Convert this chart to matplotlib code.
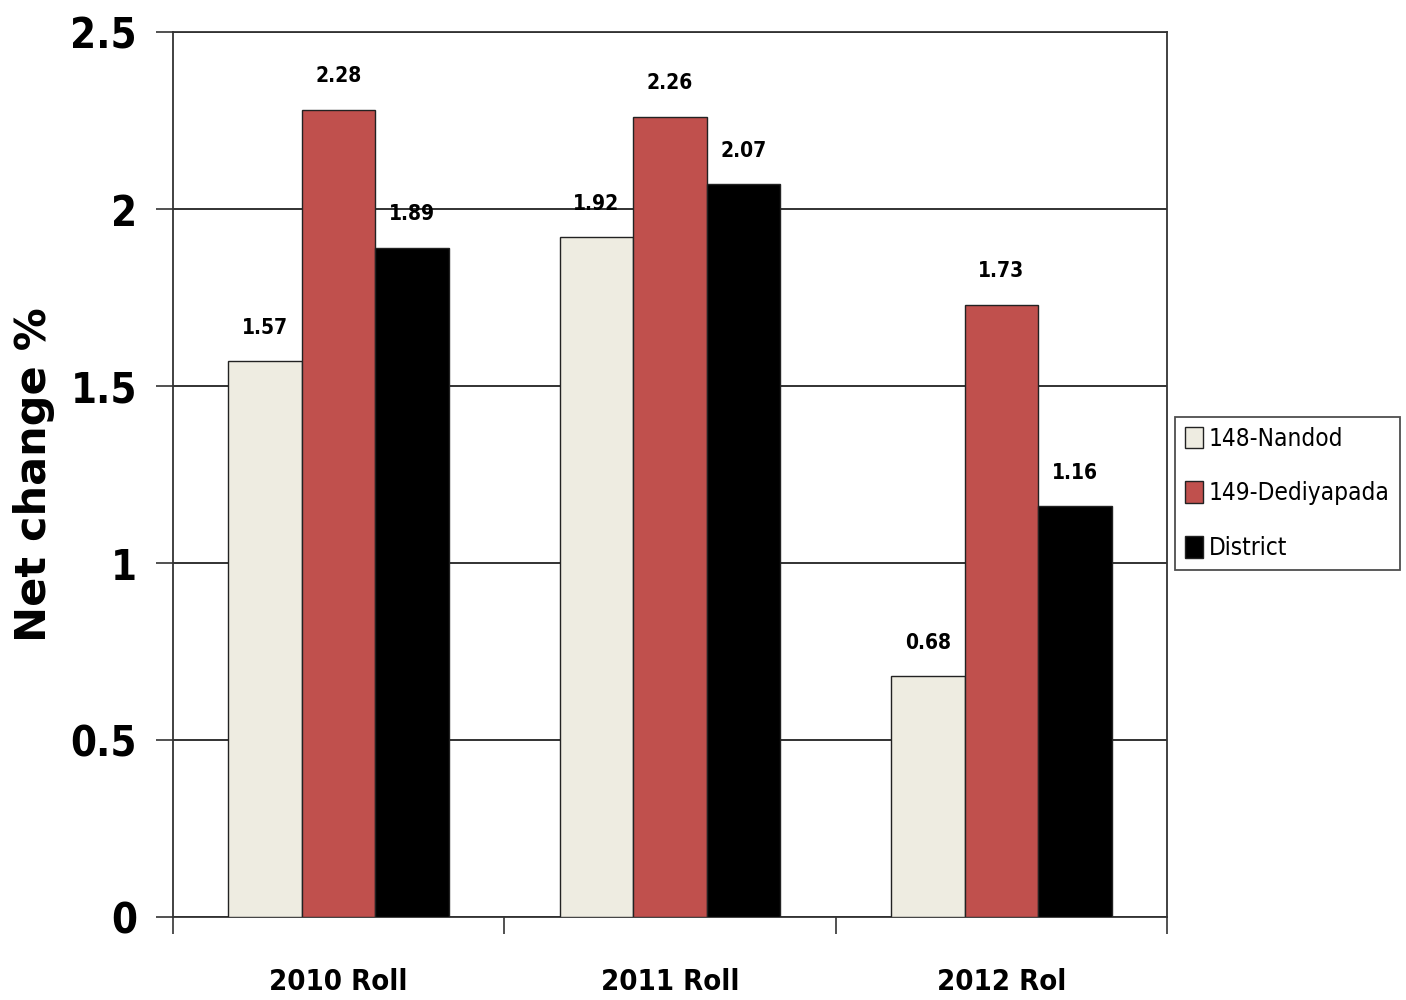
import matplotlib
matplotlib.use("Agg")
import numpy as np
import matplotlib.pyplot as plt
from matplotlib.font_manager import FontProperties

# --- dane ---
categories = ["2010 Roll", "2011 Roll", "2012 Rol"]
series_names = ["148-Nandod", "149-Dediyapada", "District"]
nandod = [1.57, 1.92, 0.68]
dediyapada = [2.28, 2.26, 1.73]
district = [1.89, 2.07, 1.16]
y_ticks = [0, 0.5, 1, 1.5, 2, 2.5]
y_tick_labels = ["0", "0.5", "1", "1.5", "2", "2.5"]

colors = ["#EEECE1", "#C0504D", "#000000"]


def narrow(size, bold=True):
    return FontProperties(family="DejaVu Sans", stretch="condensed",
                          weight="bold" if bold else "normal", size=size)


fig = plt.figure(figsize=(14.06, 10), dpi=100)
ax = fig.add_axes([0.123, 0.083, 0.707, 0.885])

x = np.arange(len(categories))
w = 0.222
for i, (vals, name, c) in enumerate(zip([nandod, dediyapada, district], series_names, colors)):
    pos = x + (i - 1) * w
    ax.bar(pos, vals, w, color=c, edgecolor="#222222", linewidth=1.0, label=name, zorder=3)
    for xp, v in zip(pos, vals):
        ax.annotate(f"{v:.2f}", (xp, v), xytext=(0, 17), textcoords="offset points",
                    ha="center", va="bottom", fontproperties=narrow(15))

ax.set_xlim(-0.5, 2.5)
ax.set_ylim(0, 2.5)
ax.set_yticks(y_ticks)
ax.set_yticklabels(y_tick_labels, fontproperties=narrow(30))
# ticks na granicach kategorii, podpisy kategorii na środku
ax.set_xticks([-0.5, 0.5, 1.5, 2.5])
ax.set_xticklabels([])
ax.set_xticks(x, minor=True)
ax.set_xticklabels(categories, minor=True, fontproperties=narrow(21))
ax.tick_params(axis="x", which="minor", length=0, pad=37)
ax.tick_params(axis="x", which="major", length=12, width=1.2, color="#333333", direction="out")
ax.tick_params(axis="y", length=12, width=1.2, color="#333333", pad=14)

ax.yaxis.grid(True, color="#222222", linewidth=1.3, zorder=0)
for s in ax.spines.values():
    s.set_color("#333333")
    s.set_linewidth(1.3)

ax.set_ylabel("Net change %", fontsize=31, fontweight="bold", family="DejaVu Sans")
ax.yaxis.set_label_coords(-0.119, 0.50)

leg = ax.legend(loc="upper left", bbox_to_anchor=(1.008, 0.565), prop=narrow(17.5, bold=False),
                frameon=True, fancybox=False, edgecolor="#222222",
                handlelength=0.75, handleheight=1.0, handletextpad=0.25,
                labelspacing=1.25, borderpad=0.4, borderaxespad=0)
leg.get_frame().set_linewidth(1.3)

fig.savefig("out.png", dpi=100)
